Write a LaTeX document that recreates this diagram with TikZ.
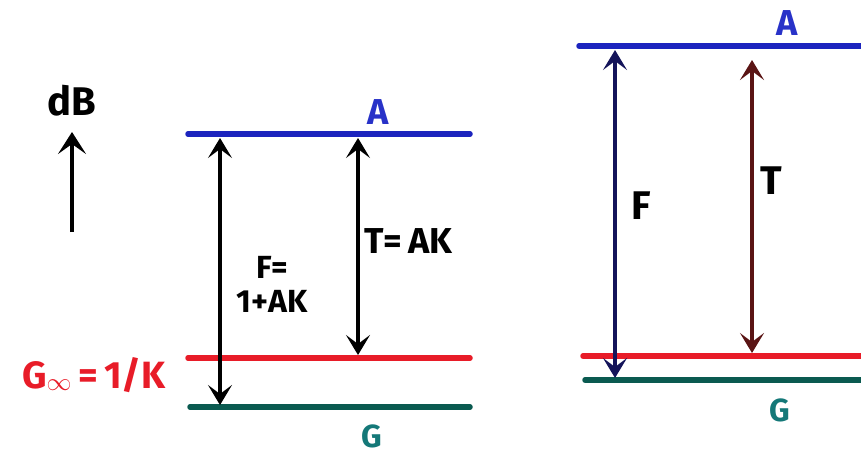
\documentclass[tikz,border=0pt]{standalone}
\usepackage{fontspec}
\setmainfont{Fira Sans}
\usetikzlibrary{arrows.meta}
\definecolor{lvblue}{RGB}{28,36,190}
\definecolor{lvred}{RGB}{232,28,40}
\definecolor{lvteal}{RGB}{10,90,80}
\definecolor{lblue}{RGB}{40,50,200}
\definecolor{lteal}{RGB}{20,120,120}
\definecolor{navy}{RGB}{20,20,90}
\definecolor{maroon}{RGB}{90,20,20}
\tikzset{
  level/.style={line width=5.5pt, line cap=round},
  dimarrow/.style={line width=3.2pt, {Stealth[length=20pt,width=24pt,inset=9pt]}-{Stealth[length=20pt,width=24pt,inset=9pt]}},
  uparrow/.style={line width=4.5pt, -{Stealth[length=22pt,width=28pt,inset=10pt]}},
  lbl/.style={inner sep=0pt, font=\fontsize{36}{38}\selectfont\bfseries},
}
\begin{document}
\begin{tikzpicture}[x=1pt,y=-1pt]
\useasboundingbox (0,0) rectangle (861,455);
% left panel
\coordinate (la1) at (188,134); \coordinate (la2) at (470,134);
\coordinate (lr1) at (188,358); \coordinate (lr2) at (470,358);
\coordinate (lg1) at (190,407); \coordinate (lg2) at (470,407);
\draw[level, lvblue] (la1) -- (la2);
\draw[level, lvred] (lr1) -- (lr2);
\draw[level, lvteal] (lg1) -- (lg2);
\node[lbl, text=lblue] (lA) at (378,112) {A};
\node[lbl, text=lvred, anchor=east, font=\fontsize{38}{40}\selectfont\bfseries] (lGi) at (166,377) {G\textsubscript{\raisebox{0.4ex}{$\infty$}}\,=\,1/K};
\node[lbl, text=lteal, font=\fontsize{32}{34}\selectfont\bfseries] (lG) at (372,436) {G};
\coordinate (lFt) at (220,138); \coordinate (lFb) at (220,405);
\coordinate (lTt) at (358,138); \coordinate (lTb) at (358,355);
\draw[dimarrow] (lFt) -- (lFb);
\draw[dimarrow] (lTt) -- (lTb);
\node[lbl, align=center, font=\fontsize{32}{34}\selectfont\bfseries] (lF) at (272,284) {F=\\1+AK};
\node[lbl, anchor=west, font=\fontsize{36}{38}\selectfont\bfseries] (lT) at (364,241) {T=\,AK};
% dB axis
\node[lbl, font=\fontsize{40}{42}\selectfont\bfseries] (dB) at (72,101) {dB};
\coordinate (dbb) at (72,232); \coordinate (dbt) at (72,132);
\draw[uparrow] (dbb) -- (dbt);
% right panel
\coordinate (ra1) at (579,46); \coordinate (ra2) at (861,46);
\coordinate (rr1) at (583,356); \coordinate (rr2) at (861,356);
\coordinate (rg1) at (585,380); \coordinate (rg2) at (861,380);
\draw[level, lvblue] (ra1) -- (ra2);
\draw[level, lvred] (rr1) -- (rr2);
\draw[level, lvteal] (rg1) -- (rg2);
\node[lbl, text=lblue] (rA) at (787,23) {A};
\node[lbl, text=lteal, font=\fontsize{32}{34}\selectfont\bfseries] (rG) at (780,410) {G};
\coordinate (rFt) at (615,50); \coordinate (rFb) at (615,378);
\coordinate (rTt) at (752,60); \coordinate (rTb) at (752,353);
\draw[dimarrow, navy] (rFt) -- (rFb);
\draw[dimarrow, maroon] (rTt) -- (rTb);
\node[lbl, font=\fontsize{40}{42}\selectfont\bfseries] (rF) at (641,206) {F};
\node[lbl, font=\fontsize{40}{42}\selectfont\bfseries] (rT) at (771,181) {T};
\end{tikzpicture}
\end{document}
